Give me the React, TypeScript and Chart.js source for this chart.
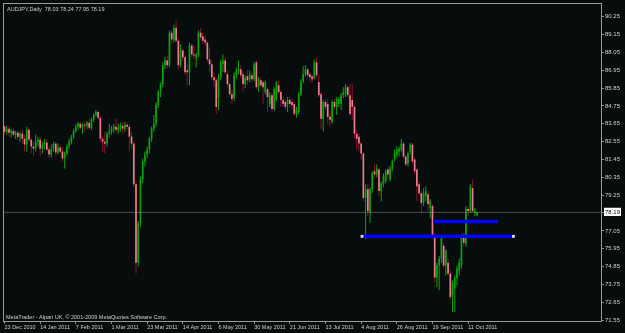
import React, { useEffect, useRef } from 'react';
import { Chart, registerables } from 'chart.js';

Chart.register(...registerables);

// ---------- data ----------
const symbolTitle = 'AUDJPY,Daily';
const lastQuote = [78.03, 78.24, 77.95, 78.19];
const copyright = 'MetaTrader - Alpari UK, \u00A9 2001-2009 MetaQuotes Software Corp.';

const dateLabels = [
  '23 Dec 2010', '14 Jan 2011', '7 Feb 2011', '1 Mar 2011', '23 Mar 2011', '14 Apr 2011', '6 May 2011',
  '30 May 2011', '21 Jun 2011', '13 Jul 2011', '4 Aug 2011', '26 Aug 2011', '19 Sep 2011', '11 Oct 2011',
];
const dateLabelBars = [0, 16, 32, 48, 64, 80, 96, 112, 128, 144, 160, 176, 192, 208];

const priceTicks = [90.25, 89.15, 88.05, 86.95, 85.85, 84.75, 83.65, 82.55, 81.45, 80.35, 79.25, 78.19,
  77.05, 75.95, 74.85, 73.75, 72.65, 71.55];
const currentPrice = 78.19;

const trendStartBars = [160.4, 192.3];
const trendEndBars = [228.3, 221.4];
const trendPrices = [76.71, 77.63];
const trendSelected = [true, false];

const opens = [
  83.47, 83.16, 83.35, 83.10, 83.22, 82.98, 83.10, 82.86, 83.04, 82.73,
  82.37, 83.28, 82.67, 82.25, 82.12, 82.55, 82.67, 82.12, 82.37, 82.49,
  82.06, 81.76, 82.12, 82.43, 81.88, 82.19, 81.94, 81.51, 81.82, 82.25,
  82.55, 82.86, 83.22, 83.47, 83.65, 83.41, 83.59, 83.53, 83.71, 83.41,
  83.90, 84.20, 84.38, 84.02, 82.73, 82.55, 82.43, 83.04, 83.16, 83.35,
  83.47, 83.28, 83.41, 83.53, 83.35, 83.59, 83.47, 82.86, 82.43, 79.92,
  75.09, 77.54, 80.23, 81.33, 81.76, 82.06, 82.73, 83.35, 83.65, 84.81,
  85.61, 86.10, 87.26, 87.56, 87.26, 89.27, 88.85, 89.58, 88.78, 87.26,
  88.18, 87.75, 86.95, 86.83, 88.48, 87.93, 87.75, 87.87, 89.27, 89.03,
  88.85, 88.66, 87.62, 87.32, 86.52, 86.34, 85.30, 86.52, 87.32, 87.56,
  86.71, 86.10, 85.48, 85.24, 86.65, 86.89, 87.01, 86.71, 86.10, 86.59,
  86.40, 86.65, 86.40, 87.44, 85.91, 86.34, 86.22, 85.61, 85.79, 84.87,
  85.42, 84.57, 85.18, 86.03, 85.61, 85.12, 85.00, 84.87, 85.12, 85.00,
  84.87, 84.26, 84.38, 85.48, 86.28, 86.71, 87.01, 86.71, 86.59, 86.52,
  87.44, 86.22, 85.48, 83.96, 85.00, 84.87, 84.08, 83.77, 85.00, 84.69,
  84.87, 84.87, 85.42, 85.48, 85.91, 85.42, 85.12, 84.69, 83.04, 82.86,
  82.43, 81.82, 79.07, 79.62, 78.15, 79.62, 80.72, 80.53, 80.84, 79.50,
  79.92, 80.11, 80.84, 80.23, 80.90, 81.45, 81.76, 81.94, 82.06, 82.43,
  81.63, 81.21, 81.94, 82.37, 81.45, 80.84, 79.92, 79.37, 78.76, 79.19,
  79.31, 78.46, 78.58, 76.75, 74.17, 74.91, 75.34, 76.13, 74.91, 75.09,
  74.42, 73.08, 73.51, 74.12, 74.61, 74.91, 76.62, 76.26, 78.40, 78.27,
  79.68, 78.15, 78.03,
];
const highs = [
  83.59, 83.53, 83.47, 83.35, 83.41, 83.22, 83.22, 83.16, 83.28, 82.98,
  83.47, 83.41, 82.80, 82.55, 82.98, 82.86, 82.86, 82.55, 82.73, 82.73,
  82.25, 82.37, 82.55, 82.55, 82.43, 82.31, 82.19, 81.94, 82.37, 82.73,
  82.98, 83.35, 83.65, 83.77, 83.77, 83.71, 83.77, 83.83, 83.96, 84.02,
  84.32, 84.51, 84.51, 84.14, 82.86, 83.16, 83.16, 83.65, 83.53, 83.65,
  83.96, 83.65, 83.71, 83.77, 83.77, 83.77, 83.65, 83.16, 82.55, 80.11,
  77.66, 80.41, 81.51, 81.94, 82.25, 82.86, 83.47, 84.20, 85.00, 85.73,
  86.22, 87.44, 87.75, 87.81, 89.40, 89.46, 89.76, 90.01, 88.91, 88.55,
  88.30, 87.87, 87.32, 88.66, 88.60, 88.48, 88.05, 89.40, 89.58, 89.27,
  89.09, 88.78, 88.36, 87.56, 86.83, 86.46, 86.71, 87.62, 87.93, 87.75,
  86.95, 86.22, 85.73, 86.83, 87.13, 87.56, 87.26, 86.95, 86.65, 86.95,
  86.95, 86.83, 87.44, 87.56, 86.52, 86.52, 86.34, 86.34, 85.91, 85.61,
  85.55, 85.91, 86.28, 86.34, 85.73, 85.30, 85.18, 85.30, 85.30, 85.18,
  85.00, 84.69, 85.61, 86.40, 87.20, 87.26, 87.13, 86.83, 86.71, 87.62,
  87.75, 86.65, 85.61, 85.12, 85.18, 85.18, 84.26, 85.12, 85.18, 85.30,
  85.30, 85.55, 85.91, 86.10, 86.03, 86.10, 86.10, 84.81, 83.28, 83.04,
  82.55, 81.94, 79.92, 79.92, 79.74, 80.72, 81.14, 81.14, 80.96, 80.11,
  80.60, 80.84, 81.02, 81.08, 81.45, 82.06, 82.25, 82.25, 82.73, 82.55,
  81.76, 81.94, 82.49, 82.49, 81.57, 80.96, 80.11, 79.50, 79.68, 79.80,
  79.50, 79.01, 78.70, 76.87, 75.09, 75.52, 76.75, 76.32, 75.95, 75.34,
  74.61, 74.00, 74.30, 74.91, 75.34, 76.87, 76.93, 78.58, 78.58, 79.92,
  80.23, 78.46, 78.24,
];
const lows = [
  83.04, 82.98, 82.86, 82.80, 82.86, 82.73, 82.67, 82.55, 82.43, 81.94,
  81.94, 82.55, 81.82, 81.63, 81.94, 82.25, 81.63, 81.82, 82.06, 81.94,
  81.51, 81.57, 81.94, 81.70, 81.76, 81.82, 81.33, 80.90, 81.70, 82.12,
  82.37, 82.73, 83.10, 83.28, 83.28, 83.04, 83.16, 83.35, 83.28, 83.28,
  83.77, 84.08, 83.90, 82.55, 81.94, 81.82, 82.25, 82.80, 82.98, 83.10,
  83.16, 83.04, 83.16, 83.04, 83.16, 83.28, 81.94, 82.12, 79.74, 74.42,
  74.85, 77.30, 79.98, 81.02, 81.51, 81.82, 82.55, 83.16, 83.47, 84.63,
  85.30, 85.91, 87.01, 87.07, 87.13, 88.55, 88.66, 88.66, 87.01, 87.13,
  87.56, 86.65, 86.03, 86.03, 87.75, 87.62, 87.13, 87.75, 88.85, 88.55,
  88.48, 87.44, 86.83, 86.34, 85.91, 84.26, 84.51, 86.34, 86.83, 86.71,
  85.91, 85.30, 84.87, 85.06, 86.46, 86.71, 86.46, 85.61, 85.85, 86.03,
  86.22, 86.22, 86.28, 85.79, 85.61, 85.91, 84.87, 85.48, 84.38, 84.69,
  84.38, 84.45, 85.06, 85.48, 84.69, 84.69, 84.51, 84.38, 84.69, 84.57,
  84.14, 84.02, 84.26, 85.36, 86.16, 86.59, 86.46, 86.22, 86.22, 86.40,
  86.46, 85.30, 83.35, 83.16, 84.51, 83.65, 83.47, 83.65, 84.51, 84.20,
  84.69, 84.51, 85.24, 85.30, 85.24, 84.14, 83.90, 82.73, 82.06, 81.94,
  81.45, 78.88, 76.56, 77.96, 77.54, 79.37, 80.35, 80.35, 79.19, 78.88,
  79.74, 79.98, 80.23, 80.11, 80.72, 81.33, 81.57, 81.63, 81.94, 81.51,
  81.02, 81.02, 81.76, 81.21, 80.53, 78.88, 79.25, 78.15, 78.58, 78.88,
  78.27, 77.84, 76.56, 73.87, 73.57, 73.38, 75.09, 74.73, 74.30, 74.30,
  72.77, 72.04, 72.04, 73.69, 74.30, 74.73, 76.13, 76.07, 77.96, 78.15,
  78.15, 77.96, 77.95,
];
const closes = [
  83.16, 83.35, 83.10, 83.22, 82.98, 83.10, 82.86, 83.04, 82.73, 82.37,
  83.28, 82.67, 82.25, 82.12, 82.55, 82.67, 82.12, 82.37, 82.49, 82.06,
  81.76, 82.12, 82.43, 81.88, 82.19, 81.94, 81.51, 81.82, 82.25, 82.55,
  82.86, 83.22, 83.47, 83.65, 83.41, 83.59, 83.53, 83.71, 83.41, 83.90,
  84.20, 84.38, 84.02, 82.73, 82.55, 82.43, 83.04, 83.16, 83.35, 83.47,
  83.28, 83.41, 83.53, 83.35, 83.59, 83.47, 82.86, 82.43, 79.92, 75.09,
  77.54, 80.23, 81.33, 81.76, 82.06, 82.73, 83.35, 83.65, 84.81, 85.61,
  86.10, 87.26, 87.56, 87.26, 89.27, 88.85, 89.58, 88.78, 87.26, 88.18,
  87.75, 86.83, 86.83, 88.48, 87.93, 87.87, 87.93, 89.27, 88.97, 88.78,
  88.66, 87.62, 87.32, 86.52, 86.34, 84.69, 86.52, 87.44, 87.56, 86.83,
  86.10, 85.48, 85.18, 86.65, 86.95, 87.01, 86.65, 86.10, 86.46, 86.34,
  86.71, 86.40, 87.32, 85.91, 86.40, 86.03, 85.91, 86.22, 85.30, 85.42,
  84.57, 85.79, 86.22, 85.61, 85.12, 84.87, 84.69, 85.12, 84.87, 84.81,
  84.26, 84.51, 85.48, 86.28, 86.71, 87.01, 86.65, 86.52, 86.40, 87.44,
  86.65, 85.42, 83.96, 85.00, 84.69, 84.08, 83.90, 85.00, 84.69, 85.18,
  85.18, 85.42, 85.61, 85.91, 85.42, 84.26, 84.69, 83.04, 82.73, 82.43,
  81.82, 79.07, 79.62, 78.27, 79.62, 80.60, 80.53, 80.90, 79.50, 79.98,
  80.41, 80.72, 80.53, 80.90, 81.33, 81.82, 82.06, 82.12, 82.43, 81.63,
  81.14, 81.82, 82.37, 81.33, 80.72, 79.80, 79.37, 78.76, 79.37, 79.50,
  78.70, 78.88, 76.75, 74.17, 74.91, 75.34, 76.62, 74.91, 75.83, 74.42,
  72.96, 73.81, 74.17, 74.73, 75.09, 76.75, 76.32, 78.40, 78.27, 79.80,
  78.27, 78.27, 78.19,
];

// ---------- styles ----------
const BG = '#060d0c';
const FRAME = '#9a9a9a';
const TICK = '#8a8a8a';
const TEXT = '#cfcfcf';
const BULL = '#0ba30b';
const BEAR_BODY = '#ee7b8b';
const BEAR_WICK = '#8e0f2e';
const FONT = '"Liberation Sans", Arial, sans-serif';

const decorPlugin = {
  id: 'mtDecor',
  beforeDraw(chart: any) {
    const { ctx, width, height } = chart;
    ctx.save();
    ctx.fillStyle = BG;
    ctx.fillRect(0, 0, width, height);
    ctx.restore();
  },
  afterDraw(chart: any) {
    const { ctx, chartArea: ca } = chart;
    ctx.save();
    ctx.strokeStyle = FRAME;
    ctx.lineWidth = 1;
    ctx.strokeRect(ca.left - 0.5, ca.top - 0.5, ca.right - ca.left + 1, ca.bottom - ca.top + 1);
    ctx.fillStyle = TEXT;
    ctx.font = `5.5px ${FONT}`;
    ctx.textAlign = 'left';
    ctx.textBaseline = 'middle';
    ctx.fillText(`${symbolTitle}  ${lastQuote.map((v) => v.toFixed(2)).join(' ')}`, ca.left + 3, ca.top + 5);
    ctx.textBaseline = 'bottom';
    ctx.fillText(copyright, ca.left + 2, ca.bottom - 0.5);
    ctx.restore();
  },
};

export default function App() {
  const ref = useRef<HTMLCanvasElement | null>(null);

  useEffect(() => {
    document.body.style.margin = '0';
    document.body.style.background = BG;
    const canvas = ref.current;
    if (!canvas) return;
    const n = Math.min(opens.length, highs.length, lows.length, closes.length);
    const idx = Array.from({ length: n }, (_, i) => i);
    const bull = idx.map((i) => closes[i] >= opens[i]);

    const wickData = idx.map((i) => ({
      x: i,
      y: [Math.min(lows[i], opens[i], closes[i]), Math.max(highs[i], opens[i], closes[i])],
    }));
    const bodyData = idx.map((i) => ({ x: i, y: [opens[i], closes[i]] }));

    const trendSets = trendPrices.map((p, k) => ({
      type: 'line',
      data: [
        { x: trendStartBars[k], y: p },
        { x: trendEndBars[k], y: p },
      ],
      borderColor: '#0000ff',
      borderWidth: 3.5,
      pointRadius: trendSelected[k] ? 2 : 0,
      pointStyle: 'rect',
      pointBackgroundColor: '#d8d8ff',
      pointBorderWidth: 0,
      clip: 0,
      order: 0,
    }));

    const chart = new Chart(canvas, {
      type: 'bar',
      data: {
        datasets: [
          {
            type: 'bar',
            data: wickData as any,
            backgroundColor: bull.map((b) => (b ? BULL : BEAR_WICK)),
            barThickness: 1,
            grouped: false,
            borderWidth: 0,
            inflateAmount: 0,
            clip: 0,
            order: 3,
          } as any,
          {
            type: 'bar',
            data: bodyData as any,
            backgroundColor: bull.map((b) => (b ? BULL : BEAR_BODY)),
            barThickness: 1.7,
            grouped: false,
            borderWidth: 0,
            inflateAmount: 0,
            clip: 0,
            order: 2,
          } as any,
          {
            type: 'line',
            data: [
              { x: -5, y: currentPrice },
              { x: 400, y: currentPrice },
            ],
            borderColor: '#8c8c8c',
            borderWidth: 1,
            borderDash: [1, 1],
            pointRadius: 0,
            clip: 0,
            order: 1,
          } as any,
          ...(trendSets as any[]),
        ],
      },
      options: {
        responsive: false,
        devicePixelRatio: 1,
        animation: false,
        events: [],
        layout: { padding: { left: 1, top: 1, right: 0, bottom: 0 } },
        plugins: {
          legend: { display: false },
          tooltip: { enabled: false },
          title: { display: false },
        },
        scales: {
          x: {
            type: 'linear',
            min: -0.22,
            max: 267.6,
            offset: false,
            bounds: 'data',
            afterBuildTicks: (s: any) => {
              s.ticks = dateLabelBars.map((v) => ({ value: v }));
            },
            afterFit: (s: any) => {
              s.height = 12;
              s.paddingLeft = 0;
              s.paddingRight = 0;
            },
            grid: { drawOnChartArea: false, drawTicks: true, tickLength: 3, color: TICK, offset: false },
            border: { display: false },
            ticks: {
              autoSkip: false,
              maxRotation: 0,
              minRotation: 0,
              align: 'start',
              padding: 0,
              color: TEXT,
              font: { family: FONT, size: 5.5 },
              callback: (_v: any, i: number) => dateLabels[i] ?? '',
            },
          },
          y: {
            type: 'linear',
            position: 'right',
            min: 71.49,
            max: 91.04,
            bounds: 'data',
            afterBuildTicks: (s: any) => {
              s.ticks = priceTicks.map((v) => ({ value: v }));
            },
            afterFit: (s: any) => {
              s.width = 24;
              s.paddingTop = 0;
              s.paddingBottom = 0;
            },
            grid: { drawOnChartArea: false, drawTicks: true, tickLength: 3, color: TICK },
            border: { display: false },
            ticks: {
              autoSkip: false,
              padding: 1,
              color: (c: any) => (c.tick && c.tick.value === currentPrice ? '#000000' : TEXT),
              showLabelBackdrop: (c: any) => !!(c.tick && c.tick.value === currentPrice),
              backdropColor: '#ffffff',
              backdropPadding: { top: 1, bottom: 0, left: 1, right: 1 },
              font: { family: FONT, size: 6 },
              callback: (v: any) => Number(v).toFixed(2),
            },
          },
        },
      } as any,
      plugins: [decorPlugin],
    });

    return () => chart.destroy();
  }, []);

  return (
    <div style={{ width: 625, height: 333, background: BG, position: 'relative' }}>
      <canvas ref={ref} width={625} height={333} style={{ display: 'block' }} />
    </div>
  );
}
